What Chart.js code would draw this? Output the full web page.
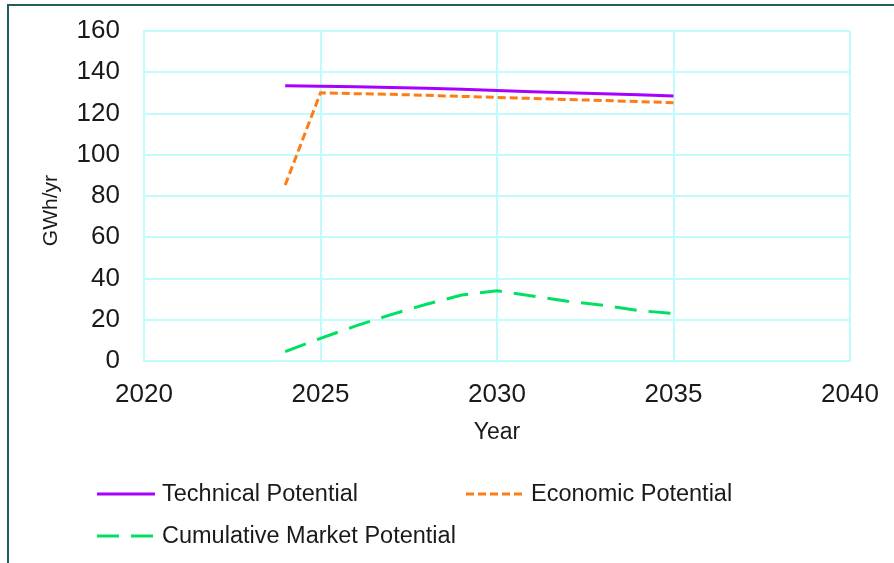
<!DOCTYPE html>
<html>
<head>
<meta charset="utf-8">
<script src="https://cdn.jsdelivr.net/npm/chart.js@4.4.1/dist/chart.umd.min.js"></script>
<style>
  html, body { margin: 0; padding: 0; background: #fff; }
  #frame {
    position: absolute; left: 7px; top: 4px; width: 900px; height: 600px;
    border-left: 2px solid #1f5e5c; border-top: 2px solid #1f5e5c;
  }
  #wrap { position: absolute; left: 0; top: 0; width: 894px; height: 563px; }
</style>
</head>
<body>
<div id="frame"></div>
<div id="wrap"><canvas id="chart" width="894" height="563"></canvas></div>
<script>
// Years on the x axis
const years = [2024, 2025, 2026, 2027, 2028, 2029, 2030, 2031, 2032, 2033, 2034, 2035];

// GWh/yr per year
const technicalPotential = [133.5, 133.2, 133.0, 132.6, 132.2, 131.7, 131.2, 130.6, 130.1, 129.6, 129.1, 128.5];
const economicPotential  = [85.3, 130.0, 129.6, 129.3, 128.8, 128.3, 127.8, 127.3, 126.8, 126.3, 125.8, 125.2];
const cumulativeMarket   = [4.5, 11.0, 17.0, 22.5, 27.5, 32.0, 34.0, 31.5, 29.0, 27.0, 24.5, 23.0];

const seriesNames = ['Technical Potential', 'Economic Potential', 'Cumulative Market Potential'];

const GRID = '#c2fbfb';
const TEXT = '#1a1a1a';
const FONT = '"Liberation Sans", Arial, sans-serif';

const toPoints = vals => vals.map((v, i) => ({ x: years[i], y: v }));

// Legend drawn by hand so the two-column layout matches the original
const legendSlots = [
  { x: 97, y: 494 },
  { x: 466, y: 494 },
  { x: 97, y: 536 },
];

const customLegend = {
  id: 'customLegend',
  afterDraw(chart) {
    const ctx = chart.ctx;
    ctx.save();
    ctx.font = '23.5px ' + FONT;
    ctx.textBaseline = 'middle';
    ctx.fillStyle = TEXT;
    chart.data.datasets.forEach((ds, i) => {
      const slot = legendSlots[i];
      ctx.beginPath();
      ctx.strokeStyle = ds.borderColor;
      ctx.lineWidth = ds.borderWidth;
      ctx.setLineDash(ds.borderDash || []);
      ctx.moveTo(slot.x, slot.y);
      ctx.lineTo(slot.x + 58, slot.y);
      ctx.stroke();
      ctx.setLineDash([]);
      ctx.fillText(ds.label, slot.x + 65, slot.y + 1);
    });
    ctx.restore();
  },
};

new Chart(document.getElementById('chart'), {
  type: 'line',
  data: {
    datasets: [
      {
        label: seriesNames[0],
        data: toPoints(technicalPotential),
        borderColor: '#a800ff',
        borderWidth: 3,
        pointRadius: 0,
        tension: 0,
        fill: false,
      },
      {
        label: seriesNames[1],
        data: toPoints(economicPotential),
        borderColor: '#ff7c12',
        borderWidth: 3,
        borderDash: [8, 4],
        pointRadius: 0,
        tension: 0,
        fill: false,
      },
      {
        label: seriesNames[2],
        data: toPoints(cumulativeMarket),
        borderColor: '#00e064',
        borderWidth: 3,
        borderDash: [22, 12],
        pointRadius: 0,
        tension: 0,
        fill: false,
      },
    ],
  },
  options: {
    responsive: false,
    animation: false,
    layout: { padding: { left: 24, right: 44, top: 31, bottom: 112 } },
    plugins: {
      legend: { display: false },
      tooltip: { enabled: false },
    },
    scales: {
      x: {
        type: 'linear',
        min: 2020,
        max: 2040,
        afterFit: s => { s.height = 90; s.paddingLeft = 0; s.paddingRight = 0; },
        ticks: {
          stepSize: 5,
          padding: 18,
          color: TEXT,
          maxRotation: 0,
          font: { family: FONT, size: 26 },
          callback: v => String(v),
        },
        grid: { color: GRID, lineWidth: 2, drawTicks: false },
        border: { color: GRID, width: 2 },
        title: {
          display: true,
          text: 'Year',
          color: TEXT,
          padding: { top: 0, bottom: 5 },
          font: { family: FONT, size: 23 },
        },
      },
      y: {
        min: 0,
        max: 160,
        afterFit: s => { s.width = 120; s.paddingTop = 0; s.paddingBottom = 0; },
        ticks: {
          stepSize: 20,
          padding: 24,
          color: TEXT,
          font: { family: FONT, size: 26 },
        },
        grid: { color: GRID, lineWidth: 2, drawTicks: false },
        border: { color: GRID, width: 2 },
        title: {
          display: true,
          // trailing spaces nudge the rotated title down, like the original
          text: 'GWh/yr     ',
          color: TEXT,
          padding: { top: 15, bottom: 0 },
          font: { family: FONT, size: 21 },
        },
      },
    },
  },
  plugins: [customLegend],
});
</script>
</body>
</html>
